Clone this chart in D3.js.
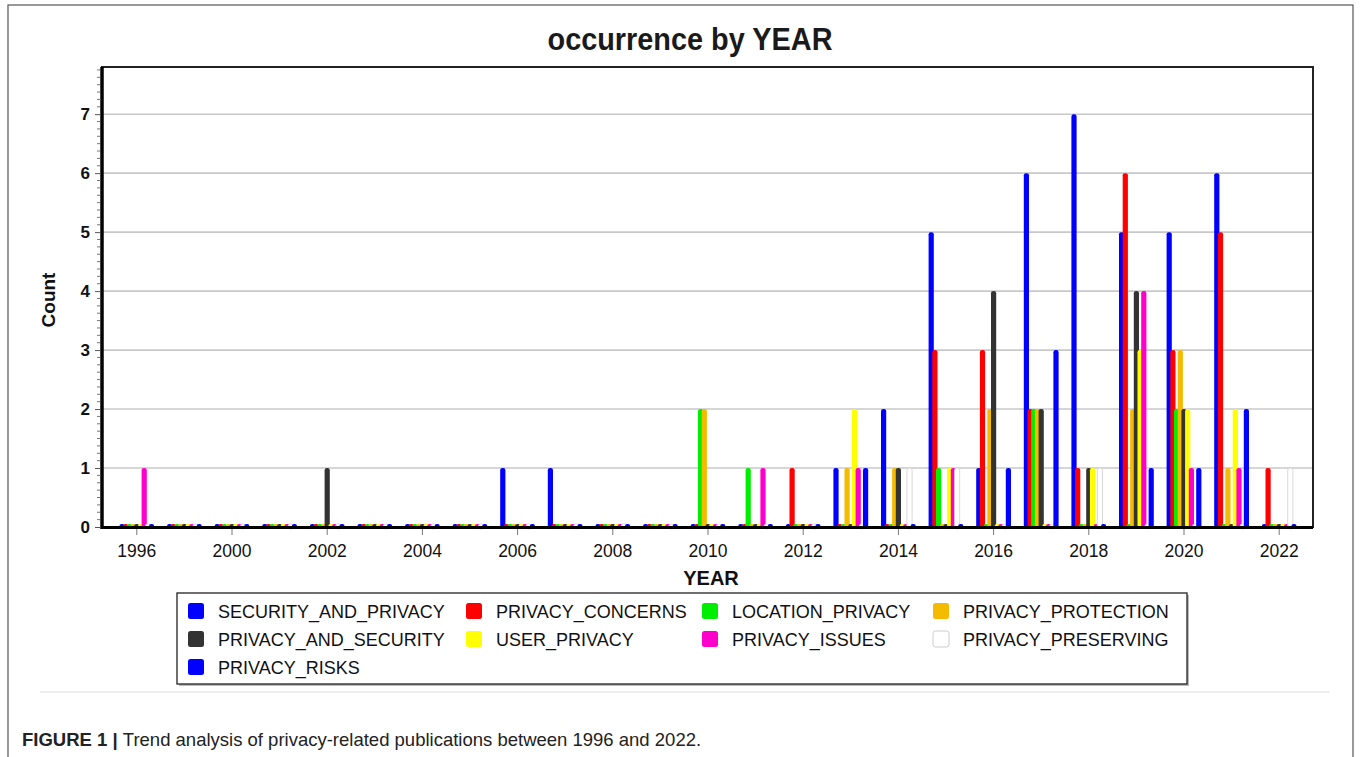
<!DOCTYPE html>
<html>
<head>
<meta charset="utf-8">
<script src="https://cdn.jsdelivr.net/npm/d3@7"></script>
<style>
  body { margin: 0; background: #fff; }
  text { font-family: "Liberation Sans", Arial, sans-serif; }
</style>
</head>
<body>
<div id="chart"></div>
<script>
let years = ['1996', '1998', '2000', '2001', '2002', '2003', '2004', '2005', '2006', '2007', '2008', '2009',
  '2010', '2011', '2012', '2013', '2014', '2015', '2016', '2017', '2018', '2019', '2020', '2021', '2022']
let tickYears = years.filter((d, i) => i % 2 === 0)

let seriesNames = ['SECURITY_AND_PRIVACY', 'PRIVACY_CONCERNS', 'LOCATION_PRIVACY', 'PRIVACY_PROTECTION',
  'PRIVACY_AND_SECURITY', 'USER_PRIVACY', 'PRIVACY_ISSUES', 'PRIVACY_PRESERVING', 'PRIVACY_RISKS']
let seriesColors = ['#0000ff', '#ff0000', '#00ee00', '#f5bb00', '#333333', '#ffff00', '#ff00cc', '#ffffff', '#0000ff']

let securityAndPrivacy = [0,0,0,0,0,0,0,0,1,1,0,0,0,0,0,1,2,5,1,6,7,5,5,6,0]
let privacyConcerns    = [0,0,0,0,0,0,0,0,0,0,0,0,0,0,1,0,0,3,3,2,1,6,3,5,1]
let locationPrivacy    = [0,0,0,0,0,0,0,0,0,0,0,0,2,1,0,0,0,1,0,2,0,0,2,0,0]
let privacyProtection  = [0,0,0,0,0,0,0,0,0,0,0,0,2,0,0,1,1,0,2,2,0,2,3,1,0]
let privacyAndSecurity = [0,0,0,0,1,0,0,0,0,0,0,0,0,0,0,0,1,0,4,2,1,4,2,0,0]
let userPrivacy        = [0,0,0,0,0,0,0,0,0,0,0,0,0,0,0,2,0,1,0,0,1,3,2,2,0]
let privacyIssues      = [1,0,0,0,0,0,0,0,0,0,0,0,0,1,0,1,0,1,0,0,0,4,1,1,0]
let privacyPreserving  = [0,0,0,0,0,0,0,0,0,0,0,0,0,0,0,0,1,1,0,0,1,0,0,0,1]
let privacyRisks       = [0,0,0,0,0,0,0,0,0,0,0,0,0,0,0,1,0,0,1,3,0,1,1,2,0]

let seriesValues = [securityAndPrivacy, privacyConcerns, locationPrivacy, privacyProtection,
  privacyAndSecurity, userPrivacy, privacyIssues, privacyPreserving, privacyRisks]

let width = 1360, height = 757
let svg = d3.select('#chart')
  .append('svg')
  .attr('width', width)
  .attr('height', height)

// outer figure frame
svg.append('rect')
  .attr('x', 8).attr('y', 5)
  .attr('width', 1345).attr('height', 780)
  .attr('fill', 'none')
  .attr('stroke', '#555')
  .attr('stroke-width', 1.2)

svg.append('line')
  .attr('x1', 40).attr('x2', 1330)
  .attr('y1', 692).attr('y2', 692)
  .attr('stroke', '#eeeeee')
  .attr('stroke-width', 2)

let plot = { left: 102, right: 1313, top: 67, bottom: 527 }

let x = d3.scaleBand()
  .domain(years)
  .range([113, 1303])

let xSub = d3.scaleBand()
  .domain(seriesNames)
  .range([-16.65, 16.65])

let y = d3.scaleLinear()
  .domain([0, 7.8])
  .range([plot.bottom, plot.top])

svg.append('text')
  .attr('x', 690)
  .attr('y', 50)
  .attr('text-anchor', 'middle')
  .attr('font-size', 31)
  .attr('font-weight', 'bold')
  .attr('fill', '#1a1a1a')
  .attr('textLength', 285)
  .attr('lengthAdjust', 'spacingAndGlyphs')
  .text('occurrence by YEAR')

// grid
svg.append('g')
  .selectAll('line')
  .data(d3.range(1, 8))
  .enter()
  .append('line')
  .attr('x1', plot.left).attr('x2', plot.right)
  .attr('y1', d => y(d)).attr('y2', d => y(d))
  .attr('stroke', '#c8c8c8')
  .attr('stroke-width', 1.6)

// bars
let barW = 5.2
let bars = svg.append('g')
seriesNames.forEach((name, si) => {
  bars.append('g')
    .selectAll('rect')
    .data(seriesValues[si].map((v, i) => ({ year: years[i], value: v })))
    .enter()
    .append('rect')
    .attr('x', d => x(d.year) + x.bandwidth() / 2 + xSub(name) + xSub.bandwidth() / 2 - barW / 2)
    .attr('y', d => Math.min(y(d.value), plot.bottom - 3))
    .attr('width', barW)
    .attr('height', d => Math.max(plot.bottom - y(d.value), 3) + 2)
    .attr('rx', 2.2)
    .attr('fill', seriesColors[si])
    .attr('stroke', si === 7 ? '#cfcfcf' : 'none')
    .attr('stroke-width', 0.8)
})

// frame
svg.append('rect')
  .attr('x', plot.left).attr('y', plot.top)
  .attr('width', plot.right - plot.left)
  .attr('height', plot.bottom - plot.top)
  .attr('fill', 'none')
  .attr('stroke', '#222')
  .attr('stroke-width', 2)

svg.append('line')
  .attr('x1', plot.left).attr('x2', plot.right)
  .attr('y1', plot.bottom + 0.5).attr('y2', plot.bottom + 0.5)
  .attr('stroke', '#000').attr('stroke-width', 3)
svg.append('line')
  .attr('x1', plot.left).attr('x2', plot.left)
  .attr('y1', plot.top).attr('y2', plot.bottom + 2)
  .attr('stroke', '#000').attr('stroke-width', 3.5)

// x axis
let xAxis = d3.axisBottom(x)
  .tickValues(tickYears)
  .tickSize(6)
  .tickPadding(10)
let gx = svg.append('g')
  .attr('transform', `translate(0, ${plot.bottom + 2})`)
  .call(xAxis)
gx.select('.domain').remove()
gx.selectAll('line').attr('stroke', '#777')
gx.selectAll('text')
  .attr('font-size', 17.5)
  .attr('fill', '#111')
  .style('font-family', '"Liberation Sans", Arial, sans-serif')

// y axis
let gy = svg.append('g')
  .attr('transform', `translate(${plot.left - 2}, 0)`)
  .call(d3.axisLeft(y).tickValues(d3.range(0, 8)).tickSize(5).tickPadding(5).tickFormat(d3.format('d')))
gy.select('.domain').remove()
gy.selectAll('line').attr('stroke', '#555')
gy.selectAll('text')
  .attr('font-size', 17)
  .attr('font-weight', 'bold')
  .attr('fill', '#111')
  .style('font-family', '"Liberation Sans", Arial, sans-serif')

svg.append('g')
  .selectAll('line')
  .data(d3.range(0, 7.8, 0.125).filter(d => d % 1 !== 0))
  .enter()
  .append('line')
  .attr('x1', plot.left - 5).attr('x2', plot.left - 2)
  .attr('y1', d => y(d)).attr('y2', d => y(d))
  .attr('stroke', '#777')
  .attr('stroke-width', 1)

svg.append('text')
  .attr('x', 711)
  .attr('y', 585)
  .attr('text-anchor', 'middle')
  .attr('font-size', 20)
  .attr('font-weight', 'bold')
  .attr('fill', '#111')
  .text('YEAR')

svg.append('text')
  .attr('transform', 'translate(55, 300) rotate(-90)')
  .attr('text-anchor', 'middle')
  .attr('font-size', 19)
  .attr('font-weight', 'bold')
  .attr('fill', '#111')
  .text('Count')

// legend
let legend = svg.append('g')
legend.append('rect')
  .attr('x', 179).attr('y', 595)
  .attr('width', 1010).attr('height', 91)
  .attr('fill', '#bbb')
legend.append('rect')
  .attr('x', 177).attr('y', 593)
  .attr('width', 1010).attr('height', 91)
  .attr('fill', '#fff')
  .attr('stroke', '#222')
  .attr('stroke-width', 1.3)

let colX = [188, 466, 702, 933]
let items = legend.selectAll('.item')
  .data(seriesNames)
  .enter()
  .append('g')
  .attr('class', 'item')
  .attr('transform', (d, i) => `translate(${colX[i % 4]}, ${611 + Math.floor(i / 4) * 28})`)
items.append('rect')
  .attr('x', 0).attr('y', -8)
  .attr('width', 16).attr('height', 16)
  .attr('rx', 2.5)
  .attr('fill', (d, i) => seriesColors[i])
  .attr('stroke', (d, i) => i === 7 ? '#ccc' : 'none')
items.append('text')
  .attr('x', 30)
  .attr('y', 6.5)
  .attr('font-size', 18)
  .attr('fill', '#111')
  .text(d => d)

// caption
let cap = svg.append('text')
  .attr('x', 22)
  .attr('y', 746)
  .attr('font-size', 18.5)
  .attr('fill', '#222')
cap.append('tspan').attr('font-weight', 'bold').text('FIGURE 1 | ')
cap.append('tspan').text('Trend analysis of privacy-related publications between 1996 and 2022.')
</script>
</body>
</html>
